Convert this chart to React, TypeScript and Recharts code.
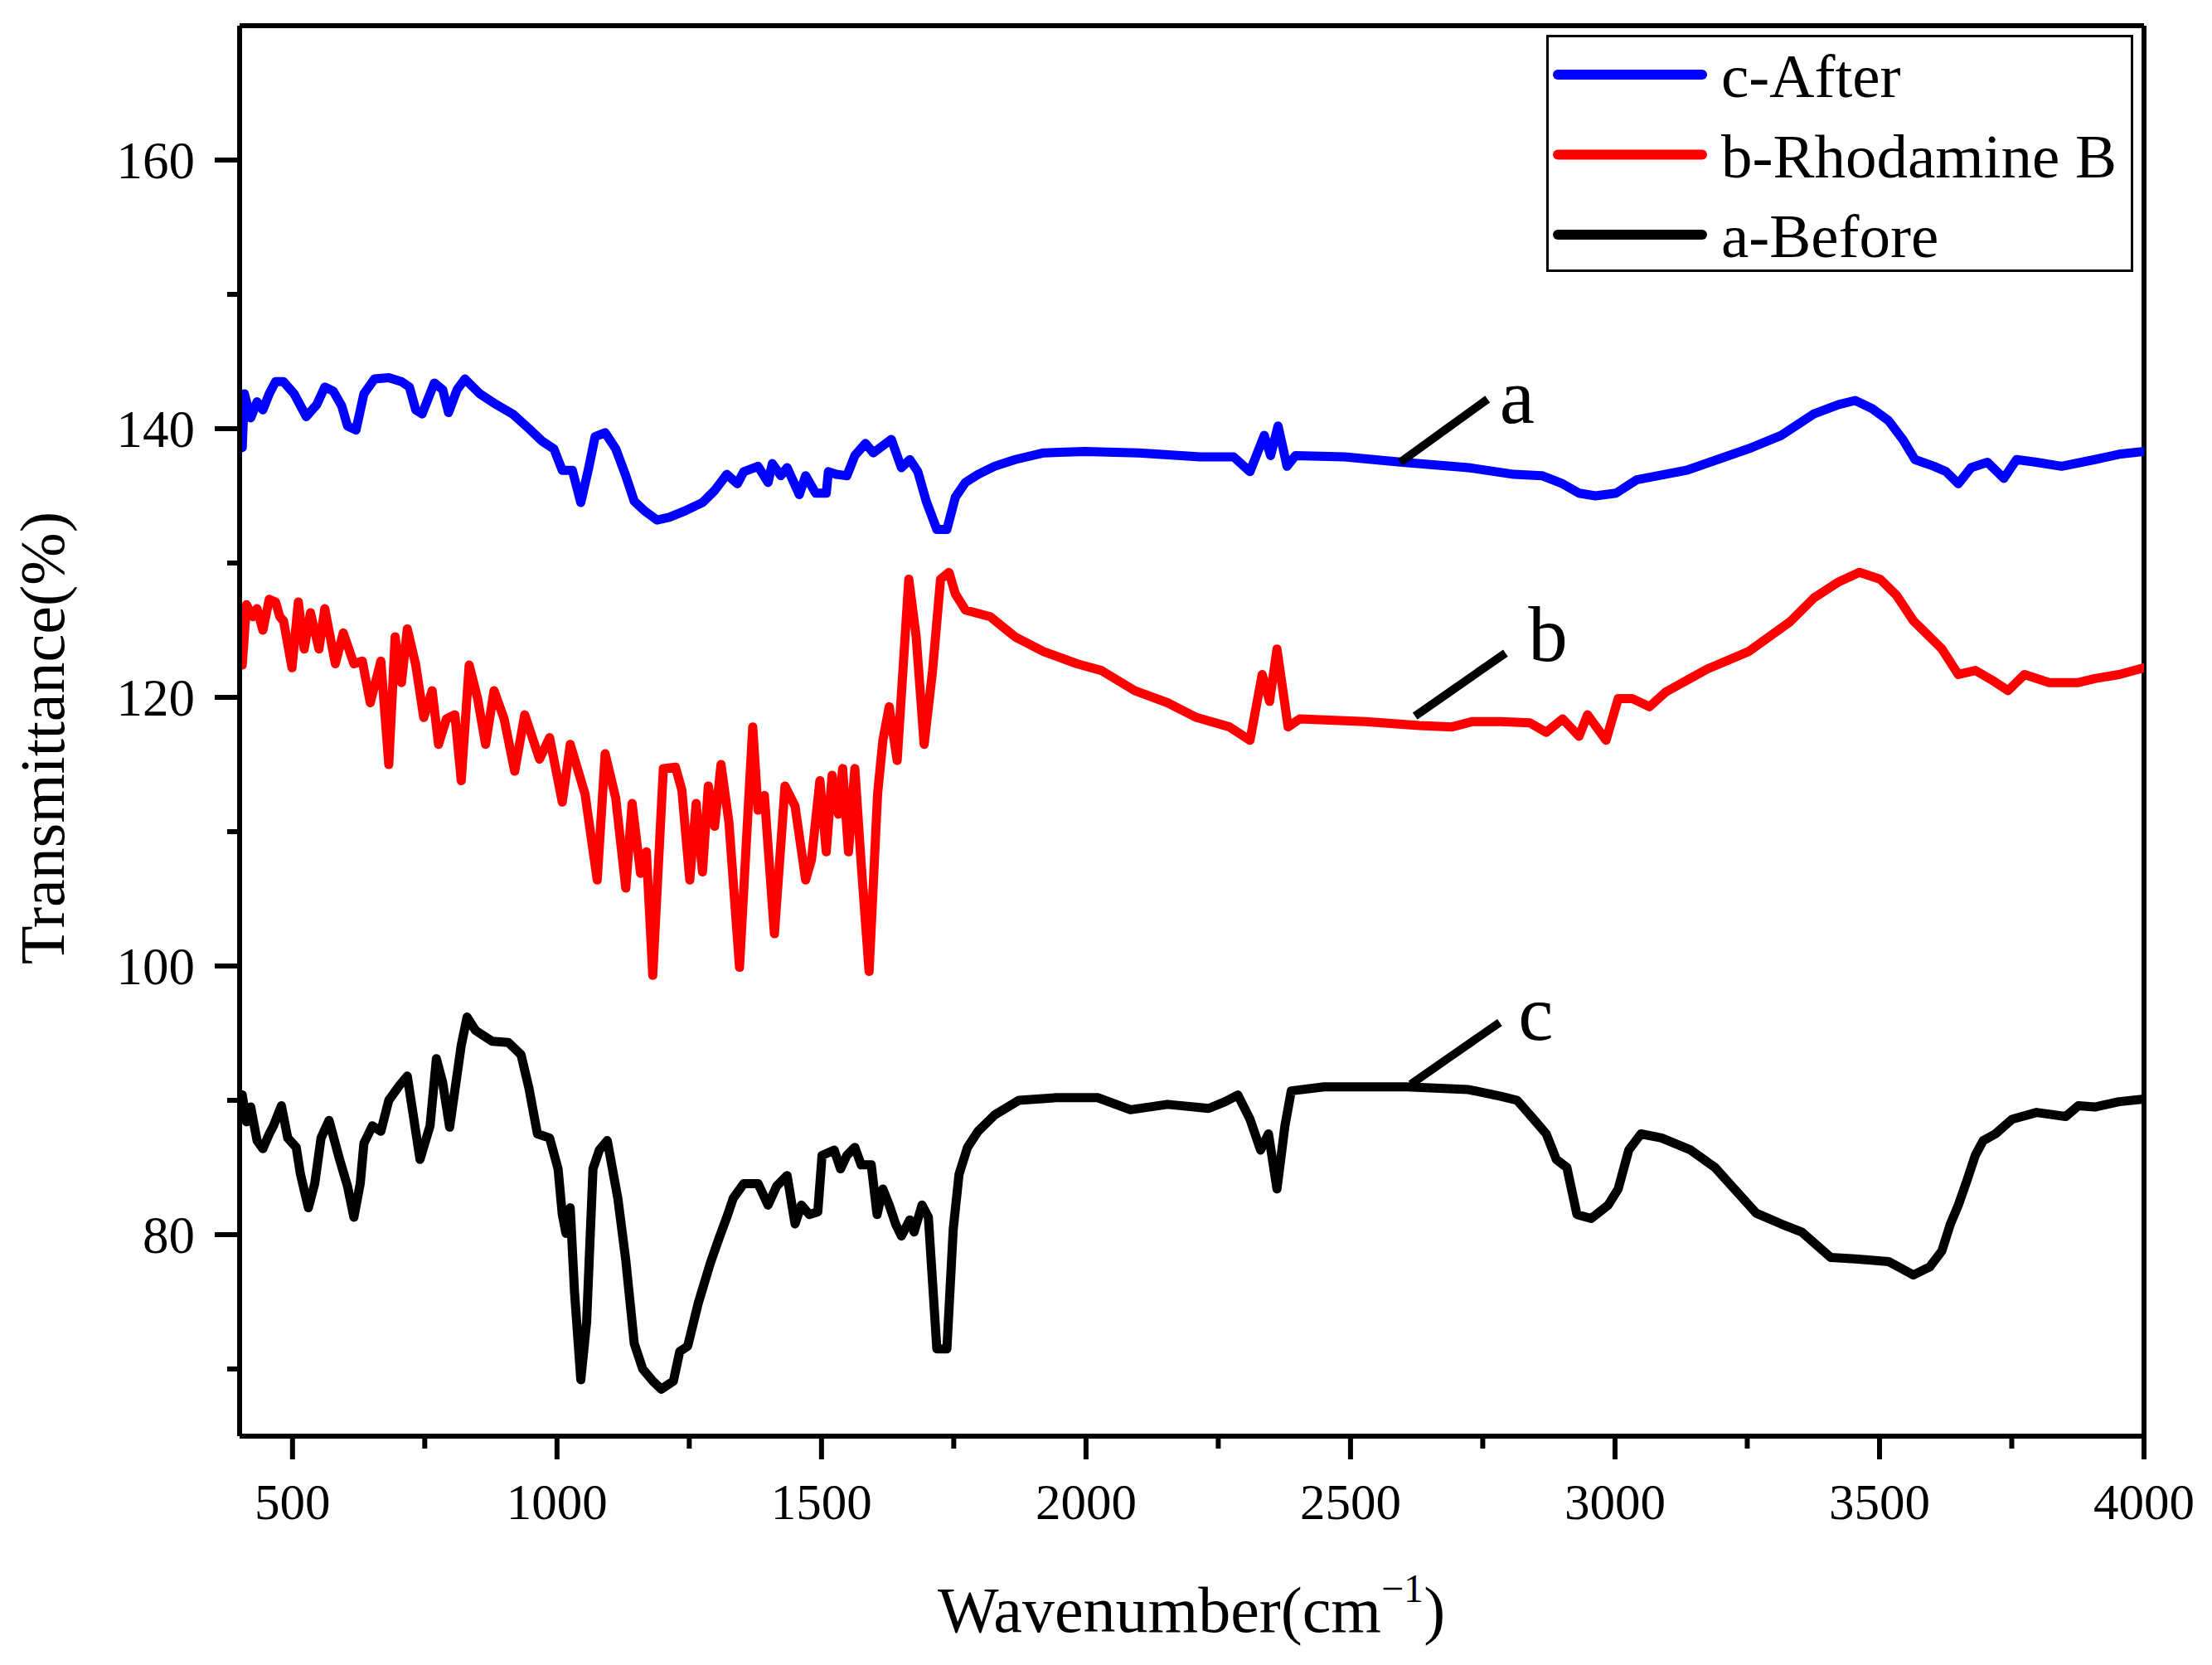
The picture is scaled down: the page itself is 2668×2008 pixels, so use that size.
import React from "react";
import { LineChart, Line, XAxis, YAxis, ReferenceLine, ReferenceDot, Legend } from "recharts";

// FTIR spectra: [wavenumber (cm-1), transmittance (%)]
const afterSpectrum: [number, number][] = [
  [405, 138.6], [409, 142.6], [421, 140.8], [433, 142.0], [444, 141.4], [456, 142.6], [468, 143.5],
  [483, 143.5], [503, 142.6], [526, 140.9], [546, 141.8], [561, 143.1], [577, 142.8], [593, 141.7],
  [604, 140.2], [620, 139.9], [635, 142.6], [655, 143.7], [682, 143.8], [706, 143.5], [721, 143.1],
  [733, 141.4], [745, 141.1], [768, 143.4], [784, 142.9], [795, 141.2], [811, 142.9], [826, 143.7],
  [854, 142.6], [885, 141.8], [916, 141.1], [947, 140.0], [971, 139.1], [994, 138.5], [1010, 136.9],
  [1029, 136.9], [1045, 134.5], [1060, 137.1], [1072, 139.4], [1091, 139.7], [1111, 138.5], [1130, 136.5],
  [1146, 134.6], [1165, 133.9], [1189, 133.2], [1212, 133.4], [1243, 133.9], [1275, 134.5], [1298, 135.4],
  [1321, 136.6], [1341, 135.9], [1353, 136.8], [1380, 137.2], [1399, 136.0], [1407, 137.4], [1423, 136.5],
  [1435, 137.1], [1458, 135.1], [1470, 136.5], [1489, 135.2], [1509, 135.2], [1513, 136.8], [1528, 136.6],
  [1548, 136.5], [1563, 138.0], [1583, 138.9], [1598, 138.2], [1632, 139.2], [1651, 137.1], [1667, 137.7],
  [1682, 136.8], [1698, 134.6], [1718, 132.5], [1737, 132.5], [1753, 134.9], [1772, 136.0], [1796, 136.6],
  [1827, 137.2], [1866, 137.7], [1920, 138.2], [1998, 138.3], [2100, 138.2], [2216, 137.9], [2279, 137.9],
  [2310, 136.8], [2337, 139.5], [2349, 138.0], [2363, 140.2], [2380, 137.2], [2396, 138.0], [2489, 137.9],
  [2598, 137.5], [2723, 137.1], [2809, 136.6], [2862, 136.5], [2901, 135.9], [2932, 135.2], [2963, 135.0],
  [3002, 135.2], [3041, 136.2], [3135, 136.9], [3252, 138.5], [3314, 139.5], [3376, 141.1], [3423, 141.8],
  [3454, 142.1], [3486, 141.5], [3517, 140.6], [3544, 139.2], [3567, 137.7], [3603, 137.2], [3626, 136.8],
  [3649, 135.9], [3673, 137.1], [3704, 137.5], [3735, 136.3], [3759, 137.7], [3797, 137.5], [3844, 137.2],
  [3907, 137.7], [3953, 138.1], [4000, 138.3],
];

const rhodamineSpectrum: [number, number][] = [
  [405, 122.4], [413, 126.9], [425, 126.0], [433, 126.6], [444, 125.0], [456, 127.3], [468, 127.1],
  [476, 126.0], [483, 125.7], [499, 122.2], [511, 127.1], [522, 123.6], [534, 126.3], [550, 123.6],
  [561, 126.6], [581, 122.5], [596, 124.8], [616, 122.5], [632, 122.7], [647, 119.6], [667, 122.7],
  [682, 115.0], [694, 124.5], [706, 121.1], [717, 125.1], [733, 122.4], [748, 118.5], [764, 120.5],
  [776, 116.5], [791, 118.4], [807, 118.7], [819, 113.8], [834, 122.4], [850, 119.9], [865, 116.5],
  [881, 120.5], [900, 118.4], [920, 114.5], [939, 118.7], [967, 115.4], [986, 117.0], [1010, 112.2],
  [1025, 116.5], [1053, 112.8], [1076, 106.4], [1091, 115.8], [1111, 112.5], [1130, 105.8], [1142, 112.1],
  [1158, 106.9], [1169, 108.5], [1181, 99.3], [1201, 114.7], [1224, 114.8], [1236, 113.1], [1251, 106.4],
  [1263, 112.1], [1275, 107.0], [1286, 113.4], [1298, 110.4], [1310, 115.0], [1325, 110.7], [1345, 99.9],
  [1360, 110.7], [1370, 117.8], [1380, 111.6], [1392, 112.7], [1411, 102.4], [1431, 113.4], [1450, 111.9],
  [1470, 106.4], [1481, 107.9], [1497, 113.8], [1509, 108.5], [1520, 114.2], [1532, 111.3], [1540, 114.7],
  [1551, 108.5], [1563, 114.7], [1575, 107.6], [1590, 99.6], [1606, 112.8], [1616, 116.8], [1628, 119.3],
  [1643, 115.3], [1665, 128.8], [1679, 124.5], [1694, 116.5], [1710, 122.0], [1725, 128.8], [1741, 129.3],
  [1753, 127.7], [1772, 126.5], [1819, 126.0], [1866, 124.5], [1920, 123.4], [1983, 122.5], [2029, 122.0],
  [2092, 120.5], [2154, 119.6], [2209, 118.5], [2271, 117.8], [2310, 116.8], [2333, 121.7], [2347, 119.7],
  [2361, 123.6], [2382, 117.8], [2404, 118.4], [2528, 118.2], [2630, 117.9], [2692, 117.8], [2731, 118.2],
  [2784, 118.2], [2839, 118.1], [2870, 117.4], [2901, 118.4], [2932, 117.1], [2948, 118.7], [2983, 116.8],
  [3006, 119.9], [3033, 119.9], [3065, 119.3], [3096, 120.4], [3174, 122.1], [3252, 123.4], [3330, 125.6],
  [3376, 127.4], [3423, 128.6], [3462, 129.3], [3501, 128.8], [3532, 127.6], [3564, 125.7], [3595, 124.5],
  [3618, 123.6], [3649, 121.7], [3681, 122.0], [3712, 121.3], [3743, 120.5], [3774, 121.7], [3821, 121.1],
  [3876, 121.1], [3907, 121.4], [3953, 121.7], [4000, 122.2],
];

const beforeSpectrum: [number, number][] = [
  [405, 90.4], [413, 88.4], [421, 89.5], [433, 87.0], [444, 86.4], [456, 87.5], [464, 88.1], [479, 89.6],
  [491, 87.2], [507, 86.5], [515, 84.5], [530, 82.0], [542, 83.8], [554, 87.2], [569, 88.5], [589, 85.6],
  [604, 83.6], [616, 81.3], [628, 83.8], [635, 86.8], [651, 88.1], [667, 87.7], [682, 90.0], [702, 91.1],
  [717, 91.8], [741, 85.6], [760, 88.1], [772, 93.1], [784, 91.3], [797, 88.0], [819, 94.1], [830, 96.2],
  [846, 95.2], [877, 94.4], [908, 94.3], [932, 93.4], [947, 90.9], [963, 87.5], [986, 87.2], [1002, 84.9],
  [1010, 81.5], [1017, 80.1], [1025, 82.0], [1033, 75.8], [1045, 69.2], [1056, 73.5], [1068, 84.9],
  [1080, 86.3], [1095, 87.0], [1115, 82.7], [1130, 78.1], [1146, 71.9], [1162, 70.0], [1181, 69.1],
  [1197, 68.5], [1220, 69.1], [1232, 71.3], [1247, 71.7], [1267, 74.9], [1290, 77.9], [1306, 79.7],
  [1321, 81.3], [1333, 82.7], [1353, 83.8], [1380, 83.8], [1399, 82.2], [1415, 83.6], [1435, 84.4],
  [1450, 80.8], [1462, 82.2], [1477, 81.5], [1493, 81.7], [1501, 85.9], [1524, 86.3], [1536, 84.9],
  [1548, 85.9], [1563, 86.5], [1575, 85.2], [1594, 85.2], [1605, 81.5], [1616, 83.4], [1628, 82.2],
  [1640, 80.8], [1651, 79.9], [1667, 81.1], [1675, 80.2], [1690, 82.2], [1702, 81.3], [1718, 71.5],
  [1737, 71.5], [1749, 80.4], [1760, 84.5], [1776, 86.5], [1796, 87.7], [1827, 88.9], [1873, 90.0],
  [1944, 90.2], [2022, 90.2], [2084, 89.3], [2154, 89.7], [2232, 89.4], [2263, 89.9], [2287, 90.4],
  [2310, 88.6], [2330, 86.3], [2345, 87.5], [2361, 83.4], [2376, 88.1], [2388, 90.7], [2450, 91.0],
  [2606, 91.0], [2723, 90.8], [2784, 90.3], [2815, 90.0], [2846, 88.6], [2870, 87.5], [2889, 85.6],
  [2909, 85.0], [2928, 81.5], [2955, 81.2], [2987, 82.2], [3006, 83.4], [3026, 86.3], [3049, 87.5],
  [3088, 87.2], [3143, 86.3], [3189, 85.0], [3221, 83.6], [3267, 81.6], [3314, 80.8], [3353, 80.2],
  [3408, 78.3], [3454, 78.2], [3517, 78.0], [3564, 77.0], [3595, 77.6], [3618, 78.8], [3634, 80.8],
  [3649, 82.2], [3665, 84.0], [3681, 85.9], [3696, 87.0], [3719, 87.5], [3751, 88.6], [3797, 89.1],
  [3852, 88.8], [3876, 89.6], [3907, 89.5], [3953, 89.9], [4000, 90.1],
];

const seriesNames = ["c-After", "b-Rhodamine B", "a-Before"];
const seriesColors = ["#0000ff", "#ff0000", "#000000"];

const xTicks = [500, 750, 1000, 1250, 1500, 1750, 2000, 2250, 2500, 2750, 3000, 3250, 3500, 3750, 4000];
const yTicks = [70, 80, 90, 100, 110, 120, 130, 140, 150, 160];

// curve labels and their pointer lines (in data units)
const curveLabels = ["a", "b", "c"];
const labelPos = [
  { x: 2815, y: 142.5 },
  { x: 2873, y: 124.8 },
  { x: 2850, y: 96.6 },
];
const pointers = [
  [{ x: 2594, y: 137.5 }, { x: 2759, y: 142.2 }],
  [{ x: 2622, y: 118.6 }, { x: 2793, y: 123.3 }],
  [{ x: 2614, y: 91.2 }, { x: 2782, y: 95.8 }],
];

const FONT = "'Liberation Serif', 'Times New Roman', serif";

const toPoints = (s: [number, number][]) => s.map(([wavenumber, t]) => ({ wavenumber, t }));
const allSeries = [afterSpectrum, rhodamineSpectrum, beforeSpectrum].map(toPoints);

function XTick(props: any) {
  const { x, y, payload } = props;
  const major = payload.value % 500 === 0;
  return (
    <g>
      <line x1={x} x2={x} y1={y} y2={y + (major ? 28 : 15)} stroke="#000" strokeWidth={6} />
      {major && (
        <text x={x} y={y + 100} textAnchor="middle" fontSize={61} fontFamily={FONT} fill="#000">
          {payload.value}
        </text>
      )}
    </g>
  );
}

function YTick(props: any) {
  const { x, y, payload } = props;
  const major = payload.value % 20 === 0;
  return (
    <g>
      <line x1={x} x2={x - (major ? 30 : 15)} y1={y} y2={y} stroke="#000" strokeWidth={6} />
      {major && (
        <text x={x - 54} y={y + 22} textAnchor="end" fontSize={63} fontFamily={FONT} fill="#000">
          {payload.value}
        </text>
      )}
    </g>
  );
}

const renderLegend = () => (
  <svg width={708} height={286} style={{ display: "block" }}>
    <rect x={1.5} y={1.5} width={705} height={283} fill="#fff" stroke="#000" strokeWidth={3} />
    {seriesNames.map((name, i) => (
      <g key={name}>
        <line x1={14} x2={188} y1={48 + i * 96.5} y2={48 + i * 96.5} stroke={seriesColors[i]} strokeWidth={12} strokeLinecap="round" />
        <text x={211} y={75 + i * 96.5} fontSize={75} fontFamily={FONT} fill="#000">
          {name}
        </text>
      </g>
    ))}
  </svg>
);

export default function App() {
  return (
    <div>
      <style>{`body{margin:0;background:#fff}`}</style>
      <LineChart width={2668} height={2008} margin={{ top: 31, right: 82, left: 0, bottom: 0 }}>
        <XAxis
          type="number"
          dataKey="wavenumber"
          domain={[400, 4000]}
          ticks={xTicks}
          interval={0}
          height={276}
          tickSize={0}
          tickMargin={0}
          tickLine={false}
          tick={<XTick />}
          axisLine={{ stroke: "#000", strokeWidth: 6 }}
          allowDataOverflow
          label={() => (
            <text x={1437} y={1968} textAnchor="middle" fontSize={78} fontFamily={FONT} fill="#000">
              Wavenumber(cm
              <tspan dy={-36} fontSize={48}>−1</tspan>
              <tspan dy={36}>)</tspan>
            </text>
          )}
        />
        <YAxis
          type="number"
          domain={[65, 170]}
          ticks={yTicks}
          interval={0}
          width={289}
          tickSize={0}
          tickMargin={0}
          tickLine={false}
          tick={<YTick />}
          axisLine={{ stroke: "#000", strokeWidth: 6 }}
          allowDataOverflow
          label={() => (
            <text x={-890} y={77} transform="rotate(-90)" textAnchor="middle" fontSize={76} fontFamily={FONT} fill="#000">
              Transmittance(%)
            </text>
          )}
        />
        <ReferenceLine y={170} stroke="#000" strokeWidth={6} />
        <ReferenceLine x={4000} stroke="#000" strokeWidth={6} />
        {allSeries.map((pts, i) => (
          <Line
            key={seriesNames[i]}
            data={pts}
            dataKey="t"
            name={seriesNames[i]}
            type="linear"
            stroke={seriesColors[i]}
            strokeWidth={11}
            strokeLinejoin="round"
            strokeLinecap="round"
            dot={false}
            isAnimationActive={false}
          />
        ))}
        {pointers.map((seg, i) => (
          <ReferenceLine key={"p" + i} segment={seg} stroke="#000" strokeWidth={10} />
        ))}
        {curveLabels.map((lab, i) => (
          <ReferenceDot
            key={"l" + i}
            x={labelPos[i].x}
            y={labelPos[i].y}
            r={0}
            stroke="none"
            fill="none"
            label={{ value: lab, position: "center", fontSize: 95, fill: "#000", fontFamily: FONT }}
          />
        ))}
        <Legend
          layout="horizontal"
          align="center"
          verticalAlign="middle"
          content={renderLegend}
          wrapperStyle={{ position: "absolute", left: 1865, top: 42, width: 708, height: 286 }}
        />
      </LineChart>
    </div>
  );
}
